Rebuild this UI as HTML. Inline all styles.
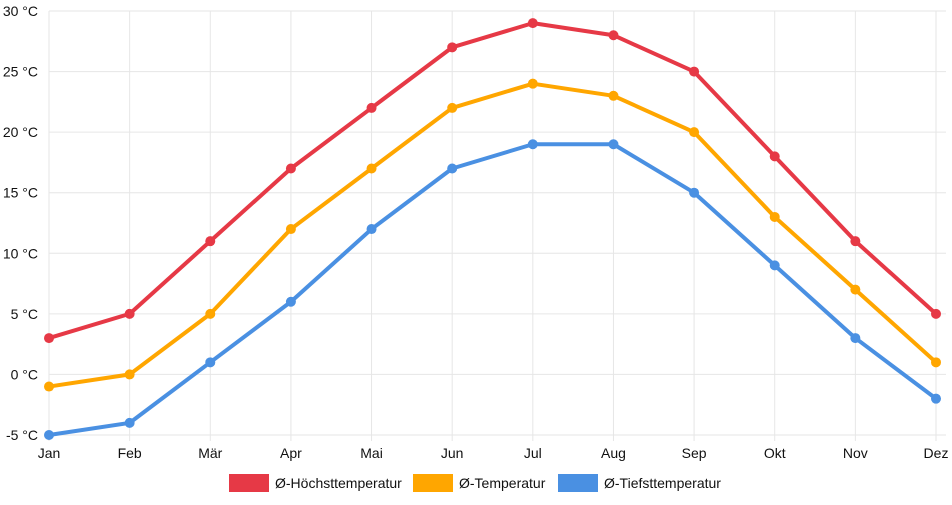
<!DOCTYPE html>
<html><head><meta charset="utf-8"><style>
body{margin:0;background:#fff;font-family:"Liberation Sans",sans-serif}
svg text{font-family:"Liberation Sans",sans-serif;font-size:14px;fill:#111}
</style></head><body>
<svg id="c" width="952" height="500"></svg>
<script>
const months=["Jan","Feb","Mär","Apr","Mai","Jun","Jul","Aug","Sep","Okt","Nov","Dez"];
const highs=[3,5,11,17,22,27,29,28,25,18,11,5];
const means=[-1,0,5,12,17,22,24,23,20,13,7,1];
const lows=[-5,-4,1,6,12,17,19,19,15,9,3,-2];
const yTicks=[-5,0,5,10,15,20,25,30];
const seriesNames=["Ø-Höchsttemperatur","Ø-Temperatur","Ø-Tiefsttemperatur"];
const colors=["#e63946","#ffa600","#4a90e2"];
const svg=document.getElementById('c');const NS="http://www.w3.org/2000/svg";
const x0=49,x1=936,yTop=11,yBot=435,vmin=-5,vmax=30;
const X=i=>x0+i*(x1-x0)/(months.length-1);
const Y=v=>yBot-(v-vmin)/(vmax-vmin)*(yBot-yTop);
function mk(t,a,p){const e=document.createElementNS(NS,t);for(const k in a)e.setAttribute(k,a[k]);(p||svg).appendChild(e);return e;}
const grid=mk('g',{});
yTicks.forEach(v=>{mk('line',{x1:x0,x2:x1+10,y1:Y(v),y2:Y(v),stroke:'#e6e6e6'},grid);
const t=mk('text',{x:x0-11,y:Y(v)+5,'text-anchor':'end'});t.textContent=v+" °C";
});
months.forEach((m,i)=>{mk('line',{x1:X(i),x2:X(i),y1:yTop,y2:yBot+6,stroke:'#e6e6e6'},grid);
const t=mk('text',{x:X(i),y:yBot+23,'text-anchor':'middle'});t.textContent=m;
});
[highs,means,lows].forEach((d,s)=>{const g=mk('g',{});

mk('polyline',{points:d.map((v,i)=>X(i)+","+Y(v)).join(" "),fill:'none',stroke:colors[s],'stroke-width':4,'stroke-linejoin':'round'},g);
d.forEach((v,i)=>{const c=mk('circle',{cx:X(i),cy:Y(v),r:5,fill:colors[s]},g);
});});
const lx=[229,413,558];
seriesNames.forEach((n,s)=>{const g=mk('g',{});

mk('rect',{x:lx[s],y:474,width:40,height:18,fill:colors[s]},g);
const t=mk('text',{x:lx[s]+46,y:488},g);t.textContent=n;});
</script>
</body></html>
